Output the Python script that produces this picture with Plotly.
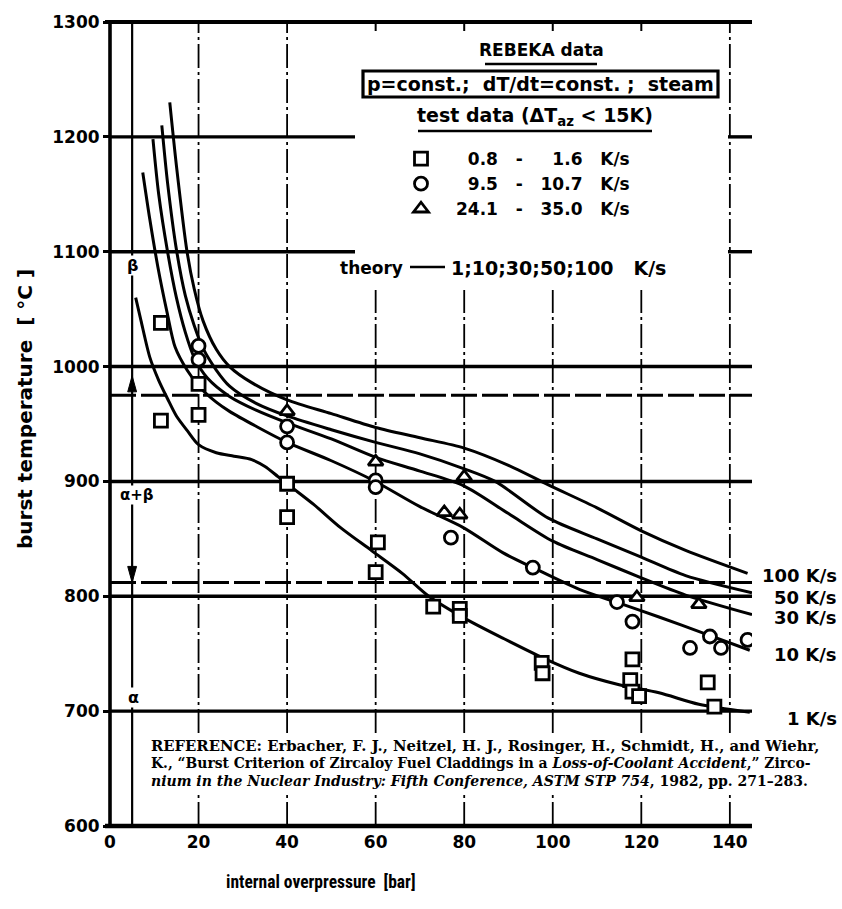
import plotly.graph_objects as go

# ---------------- data ----------------
# REBEKA test data: burst temperature vs internal overpressure
sq_p = [11.5, 11.5, 20, 20, 40, 40, 60.5, 60, 73, 79, 79, 97.5, 97.7, 118, 117.5, 118, 119.5, 135, 136.5]
sq_t = [1038, 953, 985, 958, 898, 869, 847, 821, 791, 789, 783, 742, 733, 745, 727, 717, 713, 725, 704]

ci_p = [20, 20, 40, 40, 60, 60, 77, 95.5, 114.5, 118, 131, 135.5, 138, 144]
ci_t = [1018, 1006, 948, 934, 901, 895, 851, 825, 795, 778, 755, 765, 755, 762]

tr_p = [40, 60, 75.5, 79, 80, 119, 133]
tr_t = [961, 917, 873, 871, 904, 799, 793]

# theoretical burst curves for heating rates 1, 10, 30, 50, 100 K/s
th1_p = [5.8, 7, 9, 11, 13, 15, 17.5, 20, 24, 28, 32, 35, 38, 41, 46, 52, 59, 66, 72, 80, 89, 98, 106, 115, 124, 133, 144.5]
th1_t = [1060, 1040, 1008, 988, 972, 957, 944, 932, 925, 922, 919, 913, 904, 895, 880, 860, 840, 820, 800, 781, 763, 746, 733, 723, 716, 706, 699]

th10_p = [7.4, 9, 10.8, 12.9, 14.7, 17.4, 20.3, 24, 27, 33, 40, 50, 59.4, 70, 79.7, 88.7, 95.5, 106, 115, 124, 134, 144.5]
th10_t = [1169, 1128, 1087, 1047, 1017, 997, 982, 969, 961, 948, 934, 918, 901, 878, 860, 838, 825, 806, 794, 782, 768, 753]

th30_p = [9.7, 11, 13, 15, 17, 19, 22, 27, 33, 40, 50, 60, 70, 80, 90, 100, 110, 120, 130, 145]
th30_t = [1198, 1150, 1100, 1060, 1030, 1008, 990, 974, 962, 951, 937, 921, 909, 896, 872, 848, 832, 816, 801, 784]

th50_p = [11.7, 13, 15, 17, 19, 21, 24, 27, 33, 40, 50, 60, 70, 80, 87, 99, 110, 120, 130, 145]
th50_t = [1210, 1160, 1102, 1062, 1036, 1016, 997, 983, 968, 957, 945, 934, 924, 911, 900, 868, 850, 834, 818, 803]

th100_p = [13.5, 15, 17.4, 19, 21, 24, 27, 32, 40, 50, 60, 70, 80, 90, 99, 110, 120, 130, 144]
th100_t = [1230, 1175, 1100, 1068, 1040, 1015, 1000, 986, 971, 959, 947, 938, 929, 914, 897, 877, 857, 840, 820]

rate_labels = ["100 K/s", "50 K/s", "30 K/s", "10 K/s", "1 K/s"]
x_ticks = [0, 20, 40, 60, 80, 100, 120, 140]
y_ticks = [600, 700, 800, 900, 1000, 1100, 1200, 1300]

# ---------------- geometry helpers ----------------
FIG_W, FIG_H = 842, 909
ML, MT, MR, MB = 110, 22, 90, 83
PW, PH = FIG_W - ML - MR, FIG_H - MT - MB
X_RANGE = [0, 145]
Y_RANGE = [600, 1300]


def fx(px):  # pixel column -> paper x
    return (px - ML) / PW


def fy(py):  # pixel row -> paper y
    return (FIG_H - MB - py) / PH


def dx(px):  # pixel column -> pressure axis value
    return X_RANGE[0] + (px - ML) / PW * (X_RANGE[1] - X_RANGE[0])


def dy(py):  # pixel row -> temperature axis value
    return Y_RANGE[0] + (FIG_H - MB - py) / PH * (Y_RANGE[1] - Y_RANGE[0])


FONT = "DejaVu Sans, sans-serif"
NARROW = "Liberation Sans Narrow, Roboto Condensed, Roboto, sans-serif"
SERIF = "DejaVu Serif, Liberation Serif, serif"
BLACK = "#000000"

fig = go.Figure()

# theory curves
for px_, ty_ in [(th1_p, th1_t), (th10_p, th10_t), (th30_p, th30_t), (th50_p, th50_t), (th100_p, th100_t)]:
    fig.add_trace(go.Scatter(x=px_, y=ty_, mode="lines", showlegend=False,
                             line=dict(color=BLACK, width=3, shape="spline", smoothing=0.8),
                             hoverinfo="skip"))

NB = "\u00a0"
FSP = "\u2007"
marker_line = dict(color=BLACK, width=2.8)
fig.add_trace(go.Scatter(x=sq_p, y=sq_t, mode="markers",
                         name=FSP + "0.8" + NB * 3 + "-" + NB * 3 + FSP + "1.6" + NB * 3 + "K/s",
                         marker=dict(symbol="square", size=13, color="white", line=marker_line)))
fig.add_trace(go.Scatter(x=ci_p, y=ci_t, mode="markers",
                         name=FSP + "9.5" + NB * 3 + "-" + NB * 3 + "10.7" + NB * 3 + "K/s",
                         marker=dict(symbol="circle", size=13, color="white", line=marker_line)))
fig.add_trace(go.Scatter(x=tr_p, y=tr_t, mode="markers",
                         name="24.1" + NB * 3 + "-" + NB * 3 + "35.0" + NB * 3 + "K/s",
                         marker=dict(symbol="triangle-up", size=13, color="white", line=marker_line)))

shapes = []


def seg(x0, x1, y0, y1, width, dash="solid"):
    shapes.append(dict(type="line", xref="x", yref="y", x0=x0, x1=x1, y0=y0, y1=y1,
                       line=dict(color=BLACK, width=width, dash=dash), layer="between"))


# blank areas kept free of grid lines: the key block and the reference note
KEY_X0, KEY_X1, KEY_Y0 = dx(355), dx(728), dy(290)
REF_Y0, REF_Y1 = dy(793), dy(733)
TOP_TICK = dy(31)

# vertical grid (dash-dot), interrupted by the reference note and the key block
VDASH = "24px,4px,3px,4px"
for xv in [20, 40, 60, 80, 100, 120, 140]:
    seg(xv, xv, 600, REF_Y0, 1.8, VDASH)
    if KEY_X0 < xv < KEY_X1:
        seg(xv, xv, REF_Y1, KEY_Y0, 1.8, VDASH)
        seg(xv, xv, TOP_TICK, 1300, 2.0)
    else:
        seg(xv, xv, REF_Y1, 1300, 1.8, VDASH)

# 5 bar line carrying the alpha / alpha+beta / beta phase scale
seg(5, 5, 600, 1300, 2.2)

# horizontal grid
for yv in [700, 800, 900, 1000, 1100, 1200]:
    if yv > KEY_Y0:
        seg(X_RANGE[0], KEY_X0, yv, yv, 3.4)
        seg(KEY_X1, X_RANGE[1], yv, yv, 3.4)
    else:
        seg(X_RANGE[0], X_RANGE[1], yv, yv, 3.4)
for yv in [975, 812]:
    seg(X_RANGE[0], X_RANGE[1], yv, yv, 3.0, "26px,5px")

# frame of the plotting area
shapes.append(dict(type="line", xref="paper", yref="paper", x0=fx(105), x1=1, y0=1, y1=1,
                   line=dict(color=BLACK, width=4.2), layer="above"))
shapes.append(dict(type="line", xref="paper", yref="paper", x0=fx(105), x1=1, y0=0, y1=0,
                   line=dict(color=BLACK, width=4.6), layer="above"))
shapes.append(dict(type="line", xref="paper", yref="paper", x0=0, x1=0, y0=0, y1=1,
                   line=dict(color=BLACK, width=3.6), layer="above"))

# phase-boundary arrowheads on the 5 bar line
shapes.append(dict(type="path", xref="x", yref="y", path="M 4.0 978 L 6.0 978 L 5.0 992 Z",
                   fillcolor=BLACK, line=dict(color=BLACK, width=1), layer="above"))
shapes.append(dict(type="path", xref="x", yref="y", path="M 4.0 826 L 6.0 826 L 5.0 812 Z",
                   fillcolor=BLACK, line=dict(color=BLACK, width=1), layer="above"))

# key: framed condition line and underlines
shapes.append(dict(type="rect", xref="paper", yref="paper", x0=fx(363), x1=fx(718), y0=fy(97), y1=fy(71),
                   fillcolor="rgba(0,0,0,0)", line=dict(color=BLACK, width=3.2), layer="above"))
shapes.append(dict(type="line", xref="paper", yref="paper", x0=fx(485), x1=fx(597), y0=fy(64), y1=fy(64),
                   line=dict(color=BLACK, width=2.6), layer="above"))
shapes.append(dict(type="line", xref="paper", yref="paper", x0=fx(418), x1=fx(652), y0=fy(131), y1=fy(131),
                   line=dict(color=BLACK, width=2.6), layer="above"))
shapes.append(dict(type="line", xref="paper", yref="paper", x0=fx(410), x1=fx(445), y0=fy(267), y1=fy(267),
                   line=dict(color=BLACK, width=2.6), layer="above"))

ann = []


def text(px, py, s, size=17, xanchor="center", yanchor="middle", bg=None, family=FONT, weight="bold", angle=0):
    d = dict(xref="paper", yref="paper", x=fx(px), y=fy(py), text=s, showarrow=False,
             xanchor=xanchor, yanchor=yanchor, textangle=angle,
             font=dict(family=family, size=size, color=BLACK, weight=weight))
    if bg:
        d["bgcolor"] = bg
        d["borderpad"] = 0
    ann.append(d)


text(541, 50, "REBEKA data", size=17)
text(540, 84, "p=const.; " + NB + "dT/dt=const. ; " + NB + "steam", size=19)
text(535, 117, "test data (ΔT<sub>az</sub> < 15K)", size=19)
text(405, 268, "theory", size=17, xanchor="right")
text(449, 268, "1;10;30;50;100" + NB * 3 + "K/s", size=19, xanchor="left")

# phase regions on the 5 bar line
text(132, 265, "β", size=16, bg="white")
text(137, 495, "α+β", size=15, bg="white")
text(133, 697, "α", size=16, bg="white")

# heating-rate labels at the curve ends
for lab, py in zip(rate_labels, [575, 597, 617, 654, 718]):
    text(839, py, lab, size=18, xanchor="right")

# literature reference
ref_lines = [
    "REFERENCE: Erbacher, F. J., Neitzel, H. J., Rosinger, H., Schmidt, H., and Wiehr,",
    "K., \u201cBurst Criterion of Zircaloy Fuel Claddings in a <i>Loss-of-Coolant Accident</i>,\u201d Zirco-",
    "<i>nium in the Nuclear Industry: Fifth Conference, ASTM STP 754</i>, 1982, pp. 271\u2013283.",
]
ref_sizes = [14.8, 13.9, 14.0]
for i, (line, sz) in enumerate(zip(ref_lines, ref_sizes)):
    text(149, 745 + 18 * i, line, size=sz, xanchor="left", family=SERIF)

# axis titles
text(25, 409, "burst temperature  [ °C ]", size=20, angle=-90)
text(321, 882, "internal overpressure  [bar]", size=17.5, family=NARROW)

fig.update_layout(
    width=FIG_W, height=FIG_H,
    margin=dict(l=ML, r=MR, t=MT, b=MB),
    paper_bgcolor="white", plot_bgcolor="white",
    shapes=shapes, annotations=ann,
    showlegend=True,
    legend=dict(x=fx(386), y=fy(141), xanchor="left", yanchor="top", bgcolor="rgba(0,0,0,0)",
                font=dict(family=FONT, size=17, color=BLACK, weight="bold"),
                itemwidth=60, tracegroupgap=0),
    xaxis=dict(range=X_RANGE, tickvals=x_ticks, showgrid=False, zeroline=False, showline=False,
               ticks="", tickfont=dict(family=FONT, size=17, color=BLACK, weight="bold"),
               ticklabelstandoff=4, fixedrange=True),
    yaxis=dict(range=Y_RANGE, tickvals=y_ticks, showgrid=False, zeroline=False, showline=False,
               ticks="outside", ticklen=6, tickwidth=3, tickcolor=BLACK,
               tickfont=dict(family=FONT, size=17, color=BLACK, weight="bold"), fixedrange=True),
)

fig.write_html("out.html")
